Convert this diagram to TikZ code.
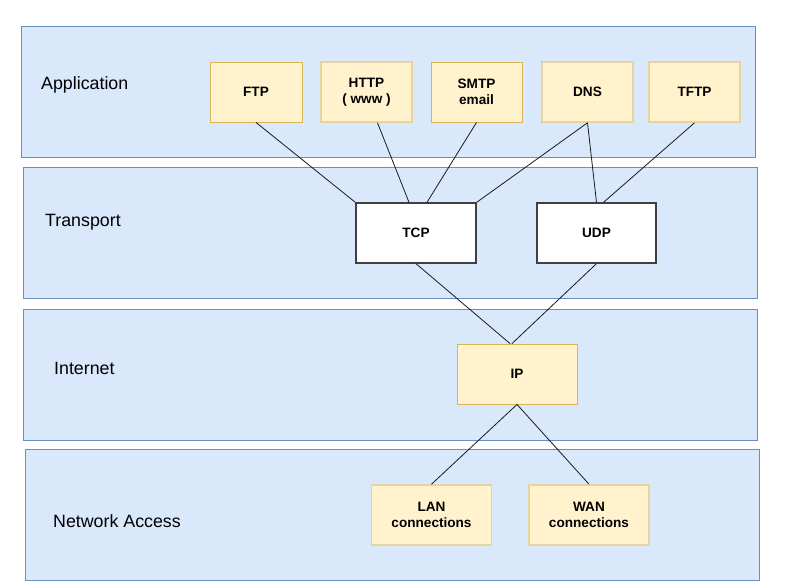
\documentclass[tikz,border=0pt]{standalone}
\usepackage{fontspec}
\setmainfont{Liberation Sans}
\definecolor{layerfill}{HTML}{DAE8FC}
\definecolor{layerdraw}{HTML}{6C8EBF}
\definecolor{boxfill}{HTML}{FFF2CC}
\definecolor{boxdraw}{HTML}{D6B656}
\definecolor{boxdrawpale}{HTML}{E6D39E}
\definecolor{linkcol}{HTML}{1A1A1A}
\begin{document}
\begin{tikzpicture}[x=1pt,y=-1pt,
  layer/.style={fill=layerfill,draw=layerdraw,line width=0.9pt},
  layertext/.style={anchor=west,inner sep=0pt,font=\fontsize{17.8}{20}\selectfont},
  ybox/.style={fill=boxfill,draw=boxdraw,line width=0.9pt,minimum height=60pt,inner sep=0pt,align=center,font=\bfseries\fontsize{13.6}{16}\selectfont},
  yboxp/.style={ybox,draw=boxdrawpale,line width=1.6pt},
  wbox/.style={fill=white,draw=black!75,line width=1.3pt,minimum width=120pt,minimum height=60pt,inner sep=0pt,font=\bfseries\fontsize{13.6}{16}\selectfont},
  link/.style={draw=linkcol,line width=0.8pt}]
\useasboundingbox (0,0) rectangle (785,587);
\fill[white] (0,0) rectangle (785,587);
% layers
\draw[layer] (21,26) rectangle (755,157);
\draw[layer] (23,167) rectangle (757,298);
\draw[layer] (23,309) rectangle (757,440);
\draw[layer] (25,449) rectangle (759,580);
\node[layertext] (lapp) at (41,84.5) {Application};
\node[layertext] (ltra) at (45,222.5) {Transport};
\node[layertext] (lint) at (54,368.5) {Internet};
\node[layertext] (lnet) at (53,521.5) {Network Access};
% application boxes
\node[ybox,minimum width=92pt] (ftp) at (256,92) {FTP};
\node[yboxp,minimum width=91pt] (http) at (366.5,92) {HTTP\\( www )};
\node[ybox,minimum width=91pt] (smtp) at (476.5,92) {SMTP\\email};
\node[yboxp,minimum width=91pt] (dns) at (587.5,92) {DNS};
\node[yboxp,minimum width=91pt] (tftp) at (694.5,92) {TFTP};
% transport
\node[wbox] (tcp) at (416,233) {TCP};
\node[wbox,minimum width=119pt] (udp) at (596.5,233) {UDP};
% internet
\node[ybox,minimum width=120pt] (ip) at (517,374) {IP};
% network access
\node[yboxp,minimum width=120pt] (lan) at (431.5,515) {LAN\\connections};
\node[yboxp,minimum width=120pt] (wan) at (589,515) {WAN\\connections};
% links
\draw[link] (ftp.south) -- (tcp.north west);
\draw[link] ([xshift=11pt]http.south) -- ([xshift=-7pt]tcp.north);
\draw[link] (smtp.south) -- ([xshift=11pt]tcp.north);
\draw[link] (dns.south) -- (tcp.north east);
\draw[link] (dns.south) -- (udp.north);
\draw[link] (tftp.south) -- ([xshift=7pt]udp.north);
\draw[link] (tcp.south) -- ([xshift=-7pt]ip.north);
\draw[link] (udp.south) -- ([xshift=-5pt]ip.north);
\draw[link] (ip.south) -- (lan.north);
\draw[link] (ip.south) -- (wan.north);
\end{tikzpicture}
\end{document}
